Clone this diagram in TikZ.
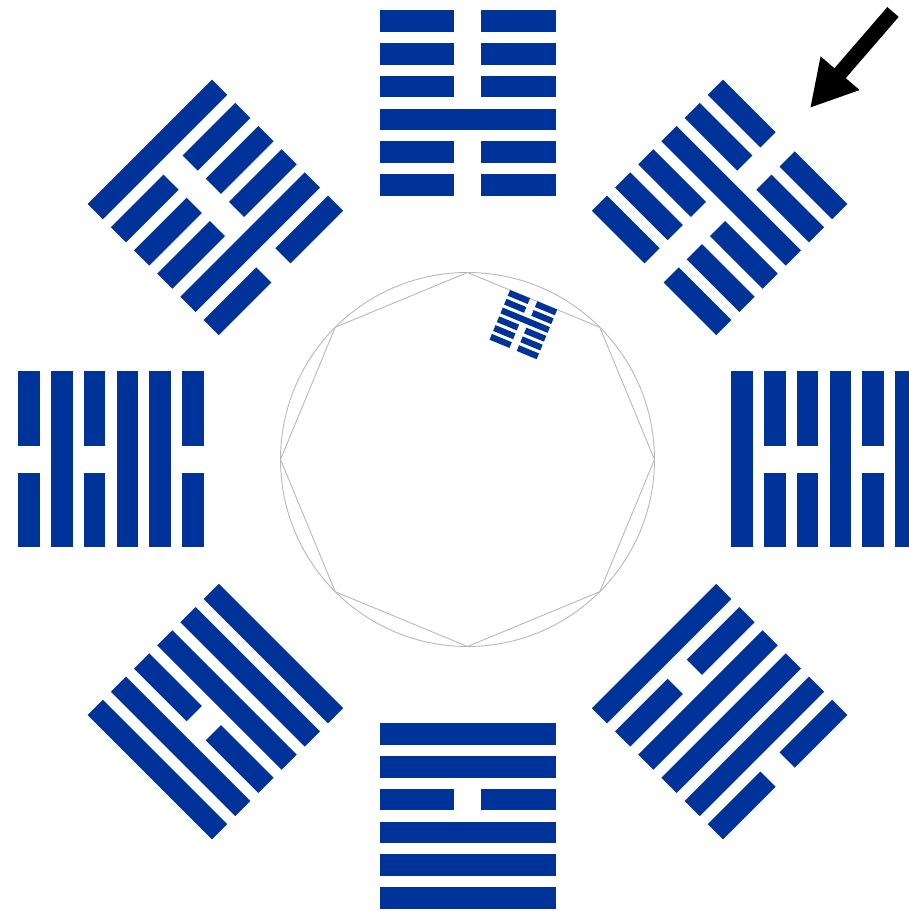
\documentclass[tikz,border=0pt]{standalone}
\usepackage{tikz}
\usetikzlibrary{arrows.meta, calc}
\definecolor{hexblue}{RGB}{0,51,153}

\begin{document}
\begin{tikzpicture}[
    x=1pt, y=1pt,
    yao/.style={fill=hexblue},
    rim/.style={draw=black!28, line width=0.9pt},
    pointer/.style={line width=15pt, -{Triangle[length=46pt, width=48pt]}},
    pics/hexagram/.style={code={
        \foreach \solid [count=\n] in {#1} {
            \pgfmathsetmacro{\ymid}{82-32.8*(\n-1)}
            \ifnum\solid=1\relax
                \fill[yao] (-88,\ymid-10.75) rectangle (88,\ymid+10.75);
            \else
                \fill[yao] (-88,\ymid-10.75) rectangle (-13.5,\ymid+10.75);
                \fill[yao] (13.5,\ymid-10.75) rectangle (88,\ymid+10.75);
            \fi
        }
    }}
]
\useasboundingbox (0,0) rectangle (909,911);
\clip (0,0) rectangle (909,911);

\coordinate (c) at (467.5,451.5);

% Circle and octagon
\draw[rim] (c) circle[radius=187];
\draw[rim] ($(c)+(0:187)$) -- ($(c)+(45:187)$) -- ($(c)+(90:187)$) -- ($(c)+(135:187)$)
    -- ($(c)+(180:187)$) -- ($(c)+(225:187)$) -- ($(c)+(270:187)$) -- ($(c)+(315:187)$) -- cycle;

% Ring of hexagrams (rows listed outer to inner, 1 = solid)
\pic[rotate=0]    at ($(c)+(90:356.5)$)  {hexagram={0,0,0,1,0,0}};
\pic[rotate=-45]  at ($(c)+(45:356.5)$)  {hexagram={0,0,1,0,0,0}};
\pic[rotate=-90]  at ($(c)+(0:356.5)$)   {hexagram={1,0,1,0,0,1}};
\pic[rotate=-135] at ($(c)+(315:356.5)$) {hexagram={0,1,1,1,0,1}};
\pic[rotate=180]  at ($(c)+(270:356.5)$) {hexagram={1,1,1,0,1,1}};
\pic[rotate=135]  at ($(c)+(225:356.5)$) {hexagram={1,1,0,1,1,1}};
\pic[rotate=90]   at ($(c)+(180:356.5)$) {hexagram={0,1,0,1,1,0}};
\pic[rotate=45]   at ($(c)+(135:356.5)$) {hexagram={1,0,0,0,1,0}};

% Small copy inside the octagon
\pic[rotate=-22.5, scale=0.29] at ($(c)+(67.5:146)$) {hexagram={0,0,1,0,0,0}};

% Pointer
\coordinate (tail) at (893,899);
\coordinate (tip) at (810,803);
\draw[pointer] (tail) -- (tip);

\end{tikzpicture}
\end{document}
